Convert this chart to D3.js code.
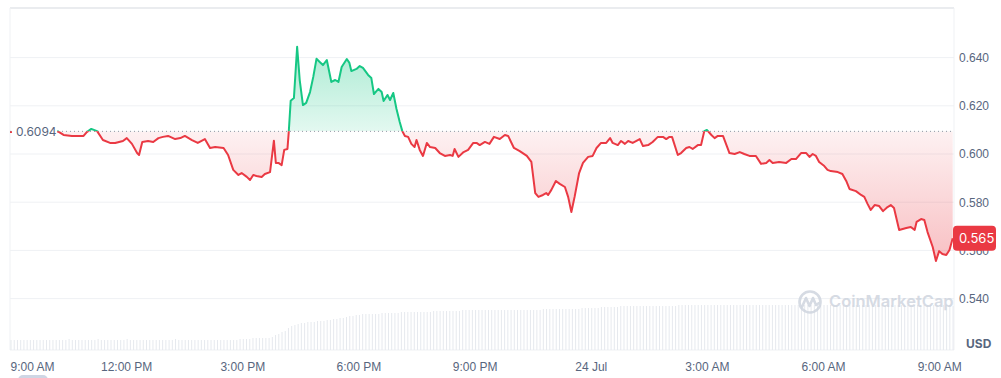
<!DOCTYPE html>
<html><head><meta charset="utf-8">
<script src="https://cdn.jsdelivr.net/npm/d3@7"></script>
<style>
html,body{margin:0;padding:0;background:#fff;}
svg{display:block;font-family:Inter, "Noto Sans", sans-serif;}
</style></head>
<body><svg id="c" width="1001" height="378"></svg>
<script>
// ---- data ----
const startTime = new Date(2023, 6, 23, 9, 0);
const priceMinutes = [0,30,60,75,83,96,114,119,126,135,144,155,163,175,181,189,197,200,205,214,222,230,237,245,256,264,271,282,291,302,310,318,331,338,346,354,359,367,372,377,382,390,395,403,409,412,416,421,425,430,432,435,440,445,449,454,459,465,470,475,480,485,491,498,504,509,514,522,526,529,537,542,547,555,560,564,571,576,579,585,589,594,599,604,608,612,617,622,627,630,635,640,646,651,659,666,674,682,686,689,695,703,710,718,723,728,736,743,750,759,767,772,781,790,801,808,814,819,826,831,834,839,846,852,860,865,870,875,882,888,896,903,909,916,924,930,934,942,947,953,958,965,976,981,989,996,1004,1012,1017,1022,1026,1035,1040,1048,1053,1058,1066,1071,1076,1080,1087,1092,1097,1105,1115,1123,1131,1138,1146,1156,1164,1172,1177,1182,1192,1203,1211,1218,1226,1234,1239,1244,1249,1254,1262,1267,1272,1283,1290,1296,1301,1311,1319,1324,1329,1334,1340,1347,1353,1360,1365,1370,1378,1389,1396,1402,1405,1412,1417,1422,1430,1435,1440,1445,1451,1456,1461];
const priceValues = [0.6091,0.6093,0.6094,0.6093,0.6079,0.6075,0.6075,0.6091,0.6104,0.6095,0.6058,0.6046,0.6046,0.6054,0.6066,0.6042,0.6004,0.5996,0.6050,0.6054,0.6050,0.6066,0.6071,0.6075,0.6062,0.6066,0.6075,0.6058,0.6046,0.6062,0.6025,0.6029,0.6025,0.5996,0.5934,0.5913,0.5921,0.5905,0.5892,0.5913,0.5909,0.5905,0.5917,0.5925,0.6055,0.5963,0.5963,0.5954,0.6017,0.6021,0.6091,0.6221,0.6232,0.6445,0.6307,0.6203,0.6212,0.6257,0.6320,0.6395,0.6382,0.6369,0.6390,0.6299,0.6307,0.6299,0.6361,0.6394,0.6378,0.6344,0.6353,0.6365,0.6357,0.6328,0.6315,0.6249,0.6270,0.6257,0.6220,0.6245,0.6224,0.6253,0.6187,0.6133,0.6095,0.6075,0.6071,0.6042,0.6029,0.6058,0.6017,0.5992,0.6046,0.6029,0.6025,0.6004,0.5992,0.5996,0.5992,0.6021,0.5988,0.6008,0.6017,0.6046,0.6046,0.6037,0.6050,0.6042,0.6071,0.6062,0.6079,0.6075,0.6025,0.6012,0.5992,0.5967,0.5838,0.5822,0.5830,0.5838,0.5830,0.5851,0.5888,0.5876,0.5863,0.5822,0.5759,0.5822,0.5921,0.5963,0.5988,0.5992,0.6025,0.6046,0.6046,0.6066,0.6046,0.6037,0.6054,0.6042,0.6054,0.6046,0.6062,0.6033,0.6037,0.6050,0.6071,0.6071,0.6062,0.6071,0.6071,0.5996,0.6004,0.6025,0.6029,0.6021,0.6037,0.6037,0.6095,0.6100,0.6079,0.6066,0.6075,0.6075,0.6004,0.6000,0.6008,0.6000,0.5992,0.5992,0.5959,0.5963,0.5975,0.5963,0.5967,0.5963,0.5979,0.5979,0.6004,0.6004,0.5988,0.6000,0.5992,0.5967,0.5950,0.5934,0.5929,0.5925,0.5917,0.5888,0.5855,0.5846,0.5830,0.5822,0.5793,0.5768,0.5788,0.5784,0.5763,0.5780,0.5788,0.5776,0.5685,0.5693,0.5697,0.5685,0.5718,0.5730,0.5726,0.5676,0.5614,0.5556,0.5597,0.5585,0.5581,0.5602,0.5650];
const volumeValues = [
10,10,10,10,10,10,10,10,10,10, 10,10,10,10,10,10,10,10,11,10,
10,10,10,10,10,10,10,11,10,10, 10,10,10,10,10,10,11,10,10,10,
10,10,10,10,10,10,10,10,10,10, 10,11,10,10,10,10,10,10,10,10,
10,10,10,10,10,10,10,10,10,10, 10,11,11,11,11,12,12,12,12,12, 12,
13,15,16,18,19,22,24,25,26,27,27,28,28,28,29,29,29,30,30,31,31,32,32,33,34,34,35,35,36,
36,36,36,36,36,
37,37,37,37,37,37,
38,38,38,38,38,38,38,38,38,38,
39,39,39,39,39,39,39,39,39,
40,40,40,40,40,40,40,40,40,40,40,40,40,40,40,40,40,40,40,40,40,40,40,40,40,
41,41,41,41,41,41,41,41,41,41,41,41,
42,42,42,42,42,42,43,43,43,43,43,43,
44,44,44,44,44,44,44,44,44,44,44,44,44,44,44,44,44,44,
45,45,45,45,45,45,45,45,45,45,45,45,45,45,45,45,45,45,45,45,
45,45,45,45,45,45,45,45,45,45,45,45,45,45,45,45,45,45,45,45,
45,45,45,45,45,45,45,45,45,45,45,45,45,45,45,45,45,45,45,45,
45,45,45,45,45,45,45,45,45,45,45,45,45,45,45,45,45,45,45,45,
45,45,45,45,45,
44];
const volumeStepMinutes = 5;
const baselineValue = 0.6094;
const lastPrice = 0.565;
const yTicks = [0.54, 0.56, 0.58, 0.60, 0.62, 0.64];
const xTickMinutes = [0,180,360,540,720,900,1080,1260,1440];
const xTickLabels = ["9:00 AM","12:00 PM","3:00 PM","6:00 PM","9:00 PM","24 Jul","3:00 AM","6:00 AM","9:00 AM"];
const endMinutes = 1463;

// ---- chart ----
const svg = d3.select("#c");
const L = 10, R = 954, T = 8, B = 350;
const tAt = m => new Date(+startTime + m*60000);
const x = d3.scaleTime().domain([startTime, tAt(endMinutes)]).range([L, R]);
const y = d3.scaleLinear().domain([0.54, 0.64]).range([298.6, 57.6]);
const yv = d3.scaleLinear().domain([0, 50]).range([B, B-50]);
const data = priceMinutes.map((m,i)=>({t:tAt(m), v:priceValues[i]}));
const by = y(baselineValue);
const green = "#16c784", red = "#ea3943", txt = "#58667e";

const defs = svg.append("defs");
defs.append("clipPath").attr("id","above").append("rect").attr("x",0).attr("y",0).attr("width",1001).attr("height",by);
defs.append("clipPath").attr("id","below").append("rect").attr("x",0).attr("y",by).attr("width",1001).attr("height",378-by);
const gg = defs.append("linearGradient").attr("id","gg").attr("gradientUnits","userSpaceOnUse")
  .attr("x1",0).attr("x2",0).attr("y1",y(0.6445)).attr("y2",by);
gg.append("stop").attr("offset",0).attr("stop-color",green).attr("stop-opacity",0.36);
gg.append("stop").attr("offset",1).attr("stop-color",green).attr("stop-opacity",0.12);
const rg = defs.append("linearGradient").attr("id","rg").attr("gradientUnits","userSpaceOnUse")
  .attr("x1",0).attr("x2",0).attr("y1",by).attr("y2",y(0.5556));
rg.append("stop").attr("offset",0).attr("stop-color",red).attr("stop-opacity",0.07);
rg.append("stop").attr("offset",1).attr("stop-color",red).attr("stop-opacity",0.32);

// frame & grid
svg.append("g").selectAll("line").data(yTicks).join("line")
  .attr("x1",L).attr("x2",R).attr("y1",d=>y(d)).attr("y2",d=>y(d))
  .attr("stroke","#eff1f4").attr("stroke-width",1);
svg.append("line").attr("x1",L).attr("x2",R).attr("y1",T).attr("y2",T).attr("stroke","#e3e6ea").attr("stroke-width",1.5);
svg.append("line").attr("x1",L).attr("x2",L).attr("y1",T).attr("y2",B).attr("stroke","#eff1f4");
svg.append("line").attr("x1",R).attr("x2",R).attr("y1",T).attr("y2",B).attr("stroke","#eff1f4");
svg.append("line").attr("x1",L).attr("x2",R).attr("y1",B).attr("y2",B).attr("stroke","#eff1f4");

// volume
svg.append("g").selectAll("rect").data(volumeValues).join("rect")
  .attr("x",(d,i)=>x(tAt(i*volumeStepMinutes))+0.5).attr("width",1)
  .attr("y",d=>yv(d)).attr("height",d=>B-yv(d)).attr("fill","#e6e9ee");

// watermark
const wm = svg.append("g").attr("opacity",0.85);
wm.append("circle").attr("cx",810).attr("cy",302).attr("r",10.5).attr("fill","none").attr("stroke","#cfd5df").attr("stroke-width",2.6);
wm.append("path").attr("d","M802,307 L806,298 L809.5,306 L813,298 L816,305 L819,303").attr("fill","none")
  .attr("stroke","#cfd5df").attr("stroke-width",2.6).attr("stroke-linejoin","round").attr("stroke-linecap","round");
wm.append("text").attr("x",829).attr("y",302).attr("dominant-baseline","middle")
  .attr("font-size",16.5).attr("font-weight",600).attr("fill","#cfd5df").text("CoinMarketCap");

// areas
const area = d3.area().x(d=>x(d.t)).y0(by).y1(d=>y(d.v));
svg.append("path").datum(data).attr("d",area).attr("fill","url(#gg)").attr("clip-path","url(#above)");
svg.append("path").datum(data).attr("d",area).attr("fill","url(#rg)").attr("clip-path","url(#below)");

// baseline
svg.append("line").attr("x1",L).attr("x2",R).attr("y1",by).attr("y2",by)
  .attr("stroke","#8f96a3").attr("stroke-width",1).attr("stroke-dasharray","1,3");

// lines
const line = d3.line().x(d=>x(d.t)).y(d=>y(d.v));
svg.append("path").datum(data).attr("d",line).attr("fill","none").attr("stroke",green).attr("stroke-width",2).attr("stroke-linejoin","round").attr("clip-path","url(#above)");
svg.append("path").datum(data).attr("d",line).attr("fill","none").attr("stroke",red).attr("stroke-width",2).attr("stroke-linejoin","round").attr("clip-path","url(#below)");

// baseline label
svg.append("rect").attr("x",12).attr("y",by-8).attr("width",45).attr("height",16).attr("fill","#fff");
svg.append("text").attr("x",16).attr("y",by).attr("dy","0.35em").attr("font-size",12).attr("fill",txt).text(d3.format(".4f")(baselineValue));

// y axis
const ya = svg.append("g").attr("transform",`translate(${R},0)`)
  .call(d3.axisRight(y).tickValues(yTicks).tickFormat(d3.format(".3f")).tickSize(0).tickPadding(5));
ya.select(".domain").remove();
ya.selectAll("text").attr("font-size",12).attr("fill",txt).attr("font-family",null);
svg.append("text").attr("x",966).attr("y",348).attr("font-size",12).attr("font-weight",700).attr("fill",txt).text("USD");

// x axis
const xa = svg.append("g").attr("transform",`translate(0,353)`)
  .call(d3.axisBottom(x).tickValues(xTickMinutes.map(tAt)).tickFormat((d,i)=>xTickLabels[i]).tickSize(0).tickPadding(9));
xa.select(".domain").remove();
xa.selectAll("text").attr("font-size",12).attr("fill",txt).attr("font-family",null);
xa.select(".tick text").attr("text-anchor","start");

// bottom-left pill
svg.append("rect").attr("x",18).attr("y",375).attr("width",30).attr("height",10).attr("rx",5).attr("fill","#cfd6e4");

// price tag
const py = y(lastPrice);
svg.append("rect").attr("x",R-1).attr("y",py-12.5).attr("width",43).attr("height",25).attr("rx",4).attr("fill",red);
svg.append("text").attr("x",959).attr("y",py).attr("dy","0.35em").attr("font-size",13).attr("fill","#fff").text(lastPrice.toFixed(3));
</script></body></html>
